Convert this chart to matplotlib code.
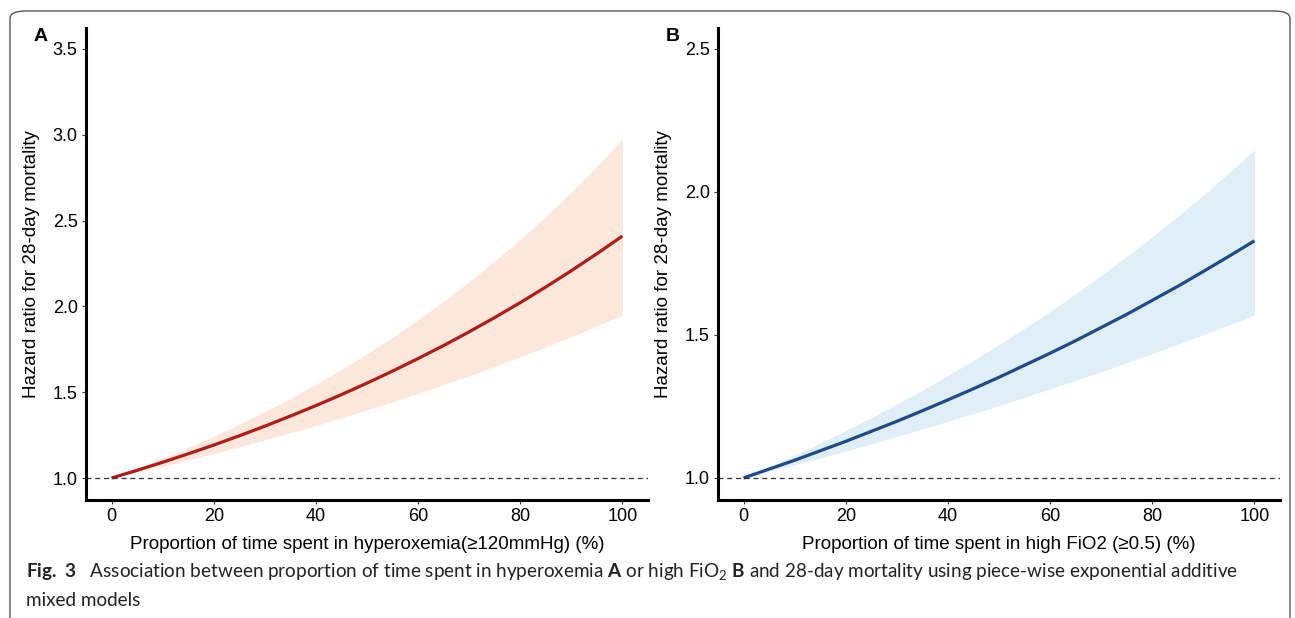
import matplotlib.pyplot as plt
from matplotlib.patches import FancyBboxPatch

# data (every 5 %)
pct = [0, 5, 10, 15, 20, 25, 30, 35, 40, 45, 50,
       55, 60, 65, 70, 75, 80, 85, 90, 95, 100]

hr_a = [1.000, 1.045, 1.092, 1.141, 1.192, 1.246, 1.302, 1.361, 1.422, 1.486, 1.553,
        1.623, 1.696, 1.772, 1.852, 1.935, 2.022, 2.113, 2.208, 2.307, 2.410]
lo_a = [1.000, 1.034, 1.069, 1.105, 1.143, 1.182, 1.222, 1.263, 1.306, 1.351, 1.397,
        1.444, 1.493, 1.544, 1.596, 1.650, 1.706, 1.764, 1.824, 1.886, 1.950]
hi_a = [1.000, 1.056, 1.115, 1.178, 1.243, 1.313, 1.387, 1.464, 1.546, 1.633, 1.724,
        1.821, 1.923, 2.030, 2.144, 2.264, 2.391, 2.525, 2.666, 2.816, 2.973]

hr_b = [1.000, 1.031, 1.062, 1.095, 1.128, 1.163, 1.198, 1.235, 1.273, 1.312, 1.352,
        1.394, 1.436, 1.480, 1.526, 1.572, 1.621, 1.670, 1.722, 1.775, 1.829]
lo_b = [1.000, 1.023, 1.046, 1.070, 1.094, 1.119, 1.145, 1.171, 1.198, 1.225, 1.253,
        1.282, 1.311, 1.341, 1.372, 1.403, 1.435, 1.468, 1.501, 1.535, 1.570]
hi_b = [1.000, 1.039, 1.080, 1.122, 1.166, 1.211, 1.258, 1.307, 1.358, 1.411, 1.466,
        1.523, 1.582, 1.644, 1.708, 1.774, 1.843, 1.915, 1.989, 2.067, 2.147]

xticks = [0, 20, 40, 60, 80, 100]
yticks_a = [1.0, 1.5, 2.0, 2.5, 3.0, 3.5]
yticks_b = [1.0, 1.5, 2.0, 2.5]

plt.rcParams['font.family'] = ['Liberation Sans', 'DejaVu Sans']
plt.rcParams['mathtext.fontset'] = 'custom'
plt.rcParams['mathtext.rm'] = 'Lato'
plt.rcParams['mathtext.bf'] = 'Lato:bold'

fig = plt.figure(figsize=(12.95, 6.18), dpi=100)

# rounded frame around the whole figure
frame = FancyBboxPatch((10 / 1295, -0.1), 1280 / 1295, 1.1 - 11 / 618,
                       boxstyle="round,pad=0,rounding_size=0.012",
                       transform=fig.transFigure, fill=False,
                       edgecolor='#555555', linewidth=1.0)
fig.patches.append(frame)

ax_a = fig.add_axes([86 / 1295, 1 - 500 / 618, 562 / 1295, 472 / 618])
ax_b = fig.add_axes([718 / 1295, 1 - 500 / 618, 562 / 1295, 472 / 618])

panels = [
    (ax_a, hr_a, lo_a, hi_a, '#B01C16', '#FDE6DC', yticks_a, (0.872, 3.622),
     'Proportion of time spent in hyperoxemia(≥120mmHg) (%)', 'A'),
    (ax_b, hr_b, lo_b, hi_b, '#1E4B87', '#DFEEF7', yticks_b, (0.923, 2.573),
     'Proportion of time spent in high FiO2 (≥0.5) (%)', 'B'),
]

for ax, hr, lo, hi, col, fill, yt, ylim, xlab, letter in panels:
    ax.fill_between(pct, lo, hi, color=fill, linewidth=0)
    ax.plot(pct, hr, color=col, linewidth=2.3, solid_capstyle='butt')
    ax.axhline(1.0, color='#333333', linewidth=0.9, linestyle=(0, (4, 3)))
    ax.set_xlim(-5, 105)
    ax.set_ylim(*ylim)
    ax.set_xticks(xticks)
    ax.set_yticks(yt)
    ax.set_yticklabels([f"{v:.1f}" for v in yt])
    ax.tick_params(labelsize=13, length=3, width=0.8, color='#333333', pad=3)
    ax.spines['top'].set_visible(False)
    ax.spines['right'].set_visible(False)
    ax.spines['left'].set_linewidth(2.2)
    ax.spines['bottom'].set_linewidth(2.2)
    ax.set_xlabel(xlab, fontsize=13.5, labelpad=8)
    ax.set_ylabel('Hazard ratio for 28-day mortality', fontsize=13.5, labelpad=9)
    ax.text(-0.093, 1.0, letter, transform=ax.transAxes, fontsize=14,
            fontweight='bold', va='top', ha='left')

cap1 = (r"$\mathbf{Fig.}$ $\mathbf{3}$   Association between proportion of time spent in hyperoxemia "
        r"$\mathbf{A}$ or high FiO$_2$ $\mathbf{B}$ and 28-day mortality using piece-wise "
        r"exponential additive")
fig.text(26 / 1295, 1 - 572 / 618, cap1, family='Lato', fontsize=13.6,
         va='center', ha='left', color='#222222')
fig.text(26 / 1295, 1 - 601 / 618, 'mixed models', family='Lato',
         fontsize=13.6, va='center', ha='left', color='#222222')

fig.savefig('out.png', dpi=100)
